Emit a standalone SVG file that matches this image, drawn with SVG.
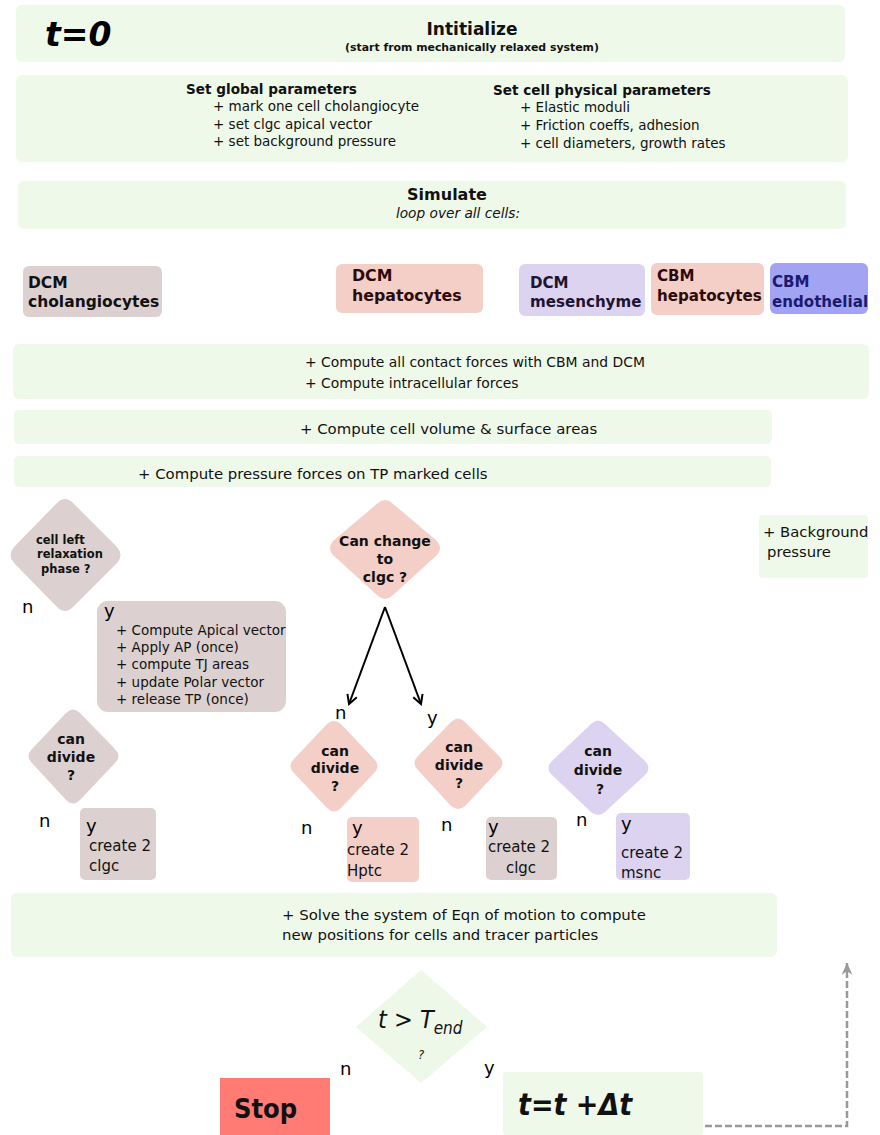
<svg xmlns="http://www.w3.org/2000/svg" width="880" height="1135" viewBox="0 0 880 1135">
<style>
.g{fill:#eff9ea}
.gr{fill:#dcd1d0}
.pk{fill:#f3cfc8}
.lv{fill:#dcd3f0}
.c{font-family:"DejaVu Sans Condensed","DejaVu Sans",sans-serif;font-stretch:condensed;fill:#111}
.n{font-family:"DejaVu Sans",sans-serif;fill:#111}
.b{font-weight:bold}
.m{text-anchor:middle}
.yn{font-family:"DejaVu Sans",sans-serif;font-size:18px;fill:#000}
</style>
<defs>
<marker id="ah" markerWidth="12" markerHeight="12" refX="10" refY="6" orient="auto" markerUnits="userSpaceOnUse">
<path d="M1,1 L10,6 L1,11" fill="none" stroke="#000" stroke-width="2"/>
</marker>
<marker id="ahg" markerWidth="14" markerHeight="14" refX="12" refY="7" orient="auto" markerUnits="userSpaceOnUse">
<path d="M0,1.5 L12,7 L0,12.5 L4,7 Z" fill="#999"/>
</marker>
</defs>

<g id="init">
<rect x="16" y="5" width="829" height="57" rx="6" class="g"/>
<text x="45" y="46" font-family="DejaVu Sans,sans-serif" font-weight="bold" font-style="italic" font-size="33" fill="#000">t=0</text>
<text x="472" y="35" class="n b m" font-size="17">Intitialize</text>
<text x="472" y="51" class="n b m" font-size="10.9">(start from mechanically relaxed system)</text>
</g>

<g id="params">
<rect x="16" y="75" width="832" height="87" rx="6" class="g"/>
<text x="186" y="94" class="n b" font-size="13.6">Set global parameters</text>
<text x="213" y="111" class="n" font-size="13.5">+ mark one cell cholangiocyte</text>
<text x="213" y="129" class="n" font-size="13.5">+ set clgc apical vector</text>
<text x="213" y="146" class="n" font-size="13.5">+ set background pressure</text>
<text x="493" y="95" class="n b" font-size="13.6">Set cell physical parameters</text>
<text x="520" y="112" class="n" font-size="13.5">+ Elastic moduli</text>
<text x="520" y="130" class="n" font-size="13.5">+ Friction coeffs, adhesion</text>
<text x="520" y="148" class="n" font-size="13.5">+ cell diameters, growth rates</text>
</g>

<g id="simulate">
<rect x="18" y="181" width="828" height="48" rx="6" class="g"/>
<text x="447" y="200" class="n b m" font-size="16">Simulate</text>
<text x="458" y="218" class="n m" font-size="13.7" font-style="italic">loop over all cells:</text>
</g>

<g id="dcm-chol">
<rect x="23" y="266" width="139" height="51" rx="6" class="gr"/>
<text x="28" y="288" class="n b" font-size="15.5" fill="#1a0d0d">DCM</text>
<text x="28" y="307" class="n b" font-size="15.5" fill="#1a0d0d">cholangiocytes</text>
</g>
<g id="dcm-hep">
<rect x="336" y="264" width="147" height="49" rx="6" class="pk"/>
<text x="352" y="281" class="n b" font-size="15.8" style="fill:#2b0b0b">DCM</text>
<text x="352" y="301" class="n b" font-size="15.8" style="fill:#2b0b0b">hepatocytes</text>
</g>
<g id="dcm-mes">
<rect x="519" y="264" width="126" height="52" rx="6" class="lv"/>
<text x="530" y="288" class="n b" font-size="15.1" style="fill:#1d1530">DCM</text>
<text x="530" y="307" class="n b" font-size="15.1" style="fill:#1d1530">mesenchyme</text>
</g>
<g id="cbm-hep">
<rect x="651" y="263" width="113" height="52" rx="6" class="pk"/>
<text x="657" y="281" class="n b" font-size="15.1" style="fill:#2b0b0b">CBM</text>
<text x="657" y="301" class="n b" font-size="15.1" style="fill:#2b0b0b">hepatocytes</text>
</g>
<g id="cbm-endo">
<rect x="770" y="263" width="98" height="51" rx="6" fill="#a3a3f4"/>
<text x="772" y="287" class="n b" font-size="15.1" style="fill:#1a1a70">CBM</text>
<text x="772" y="307" class="n b" font-size="15.1" style="fill:#1a1a70">endothelial</text>
</g>

<g id="contact">
<rect x="13" y="344" width="856" height="55" rx="6" class="g"/>
<text x="305" y="367" class="n" font-size="13.9">+ Compute all contact forces with CBM and DCM</text>
<text x="305" y="388" class="n" font-size="13.9">+ Compute intracellular forces</text>
</g>
<g id="volume">
<rect x="14" y="410" width="758" height="34" rx="5" class="g"/>
<text x="300" y="434" class="n" font-size="14.9">+ Compute cell volume &amp; surface areas</text>
</g>
<g id="pressure">
<rect x="14" y="456" width="757" height="31" rx="5" class="g"/>
<text x="138" y="479" class="n" font-size="14.9">+ Compute pressure forces on TP marked cells</text>
</g>
<g id="bg-pressure">
<rect x="759" y="515" width="109" height="63" rx="4" class="g"/>
<text x="763" y="537" class="n" font-size="14.8">+ Background</text>
<text x="767" y="557" class="n" font-size="14.8">pressure</text>
</g>

<g id="relax">
<path d="M73,503 L117,547 Q124,555 117,563 L73,607 Q65,615 57,607 L14,563 Q7,555 14,547 L57,503 Q65,495 73,503 Z" class="gr"/>
<text x="36" y="544" class="n b" font-size="11.5" fill="#111">cell left</text>
<text x="37" y="558" class="n b" font-size="11.5" fill="#111">relaxation</text>
<text x="41" y="573" class="n b" font-size="11.5" fill="#111">phase ?</text>
<text x="22" y="613" class="yn">n</text>
</g>
<g id="relax-yes">
<rect x="97" y="601" width="189" height="111" rx="11" class="gr"/>
<text x="104" y="617" class="yn" fill="#111">y</text>
<text x="116" y="635" class="n" font-size="13.5">+ Compute Apical vector</text>
<text x="116" y="652" class="n" font-size="13.5">+ Apply AP (once)</text>
<text x="116" y="669" class="n" font-size="13.5">+ compute TJ areas</text>
<text x="116" y="687" class="n" font-size="13.5">+ update Polar vector</text>
<text x="116" y="704" class="n" font-size="13.5">+ release TP (once)</text>
</g>

<g id="change">
<path d="M392,503 L437,541 Q443,548 437,555 L392,596 Q385,602 378,596 L333,555 Q327,548 333,541 L378,503 Q385,497 392,503 Z" class="pk"/>
<text x="385" y="546" class="n b m" font-size="14" fill="#2b0b0b">Can change</text>
<text x="385" y="564" class="n b m" font-size="14" fill="#2b0b0b">to</text>
<text x="385" y="582" class="n b m" font-size="14" fill="#2b0b0b">clgc ?</text>
</g>

<g id="connectors">
<line x1="385" y1="607" x2="349" y2="704" stroke="#000" stroke-width="2" marker-end="url(#ah)"/>
<line x1="385" y1="607" x2="421" y2="704" stroke="#000" stroke-width="2" marker-end="url(#ah)"/>
<path d="M705,1126 L847,1126 L847,963" fill="none" stroke="#999" stroke-width="2.5" stroke-dasharray="7,3" marker-end="url(#ahg)"/>
</g>
<text x="335" y="719" class="yn">n</text>
<text x="427" y="724" class="yn">y</text>

<g id="div-chol">
<path d="M80,713 L115,749 Q122,756 115,763 L80,800 Q73,807 66,800 L32,763 Q25,756 32,749 L66,713 Q73,706 80,713 Z" class="gr"/>
<text x="71" y="744" class="n b m" font-size="14" fill="#111">can</text>
<text x="71" y="762" class="n b m" font-size="14" fill="#111">divide</text>
<text x="71" y="780" class="n b m" font-size="14" fill="#111">?</text>
<text x="39" y="827" class="yn">n</text>
</g>
<g id="div-chol-yes">
<rect x="80" y="808" width="76" height="72" rx="5" class="gr"/>
<text x="86" y="832" class="yn" fill="#111">y</text>
<text x="89" y="851" class="n" font-size="15">create 2</text>
<text x="89" y="871" class="n" font-size="15">clgc</text>
</g>

<g id="div-hep">
<path d="M341,724 L374,759 Q381,766 374,773 L341,808 Q334,815 327,808 L294,773 Q287,766 294,759 L327,724 Q334,718 341,724 Z" class="pk"/>
<text x="335" y="756" class="n b m" font-size="14" fill="#2b0b0b">can</text>
<text x="335" y="773" class="n b m" font-size="14" fill="#2b0b0b">divide</text>
<text x="335" y="791" class="n b m" font-size="14" fill="#2b0b0b">?</text>
<text x="301" y="834" class="yn">n</text>
</g>
<g id="div-hep-yes">
<rect x="347" y="817" width="72" height="65" rx="5" class="pk"/>
<text x="352" y="834" class="yn" fill="#2b0b0b">y</text>
<text x="347" y="855" class="n" font-size="15" fill="#2b0b0b">create 2</text>
<text x="347" y="876" class="n" font-size="15" fill="#2b0b0b">Hptc</text>
</g>

<g id="div-newclgc">
<path d="M465,722 L499,756 Q506,763 499,770 L465,806 Q458,812 451,806 L418,770 Q411,763 418,756 L451,722 Q458,715 465,722 Z" class="pk"/>
<text x="459" y="752" class="n b m" font-size="14" fill="#2b0b0b">can</text>
<text x="459" y="770" class="n b m" font-size="14" fill="#2b0b0b">divide</text>
<text x="459" y="788" class="n b m" font-size="14" fill="#2b0b0b">?</text>
<text x="441" y="831" class="yn">n</text>
</g>
<g id="div-newclgc-yes">
<rect x="486" y="817" width="71" height="63" rx="5" class="gr"/>
<text x="488" y="833" class="yn" fill="#111">y</text>
<text x="488" y="852" class="n" font-size="15">create 2</text>
<text x="521" y="873" class="n m" font-size="15">clgc</text>
</g>

<g id="div-mes">
<path d="M605,724 L645,761 Q652,768 645,775 L605,812 Q598,818 591,812 L552,775 Q545,768 552,761 L591,724 Q598,717 605,724 Z" class="lv"/>
<text x="598" y="756" class="n b m" font-size="14" fill="#1d1530">can</text>
<text x="598" y="775" class="n b m" font-size="14" fill="#1d1530">divide</text>
<text x="600" y="794" class="n b m" font-size="14" fill="#1d1530">?</text>
<text x="576" y="826" class="yn">n</text>
</g>
<g id="div-mes-yes">
<rect x="616" y="813" width="74" height="67" rx="5" class="lv"/>
<text x="621" y="830" class="yn" fill="#1d1530">y</text>
<text x="621" y="858" class="n" font-size="15" fill="#1d1530">create 2</text>
<text x="621" y="878" class="n" font-size="15" fill="#1d1530">msnc</text>
</g>

<g id="solve">
<rect x="11" y="893" width="766" height="64" rx="6" class="g"/>
<text x="282" y="920" class="n" font-size="14.9">+ Solve the system of Eqn of motion to compute</text>
<text x="282" y="940" class="n" font-size="14.9">new positions for cells and tracer particles</text>
</g>

<g id="tend">
<path d="M421,970 L487,1027 L421,1083 L356,1027 Z" fill="#eef8e8"/>
<text x="378" y="1028" class="c" font-size="25" font-style="italic">t &gt; T<tspan font-size="17" dy="6">end</tspan></text>
<text x="418" y="1059" class="c" font-size="13" font-style="italic">?</text>
<text x="340" y="1075" class="yn">n</text>
<text x="484" y="1074" class="yn">y</text>
</g>

<g id="stop">
<rect x="220" y="1078" width="110" height="57" fill="#ff7b73"/>
<text x="234" y="1118" class="c b" font-size="27" fill="#000">Stop</text>
</g>

<g id="increment">
<rect x="503" y="1072" width="200" height="63" rx="3" class="g"/>
<text x="518" y="1115" class="c b" font-size="30" font-style="italic" fill="#000">t=t +Δt</text>
</g>
</svg>
